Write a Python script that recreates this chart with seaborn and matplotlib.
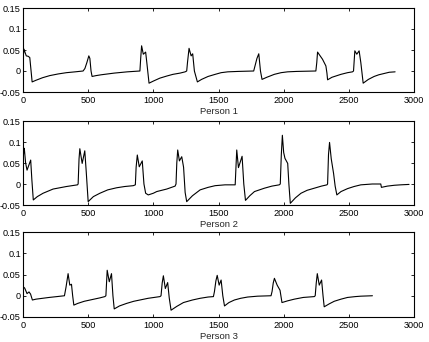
import matplotlib
matplotlib.use("Agg")
import matplotlib.pyplot as plt
import seaborn as sns
import pandas as pd

# ---- data (time index, amplitude) ----
person1 = [(0, 0.03), (8, 0.052), (15, 0.045), (25, 0.036), (40, 0.035), (52, 0.032), (62, 0.0),
           (70, -0.026), (100, -0.022), (150, -0.016), (205, -0.011), (270, -0.007), (333, -0.004),
           (400, -0.002), (461, 0.0), (475, 0.006), (490, 0.02), (505, 0.036), (513, 0.03), (522, 0.0),
           (530, -0.013), (560, -0.011), (600, -0.009), (700, -0.005), (800, -0.002), (897, 0.0),
           (903, 0.03), (910, 0.06), (923, 0.04), (941, 0.045), (950, 0.02), (967, -0.029),
           (1000, -0.024), (1050, -0.017), (1103, -0.012), (1150, -0.008), (1205, -0.005),
           (1244, -0.002), (1256, 0.0), (1262, 0.02), (1274, 0.054), (1290, 0.036), (1302, 0.041),
           (1315, 0.0), (1338, -0.026), (1370, -0.02), (1420, -0.013), (1474, -0.008), (1520, -0.004),
           (1571, -0.002), (1650, -0.001), (1770, 0.0), (1780, 0.012), (1795, 0.03), (1809, 0.041),
           (1822, 0.0), (1834, -0.02), (1870, -0.015), (1928, -0.008), (1980, -0.004), (2030, -0.002),
           (2100, -0.001), (2247, 0.0), (2254, 0.02), (2260, 0.045), (2280, 0.036), (2298, 0.028),
           (2324, 0.012), (2332, -0.005), (2337, -0.021), (2370, -0.015), (2439, -0.008),
           (2490, -0.004), (2528, -0.002), (2536, 0.0), (2546, 0.048), (2561, 0.04), (2579, 0.048),
           (2592, 0.02), (2610, -0.029), (2650, -0.02), (2694, -0.013), (2730, -0.009), (2770, -0.006),
           (2810, -0.003), (2855, -0.002)]

person2 = [(0, 0.055), (5, 0.075), (10, 0.085), (20, 0.05), (31, 0.033), (45, 0.045), (59, 0.057),
           (68, 0.01), (79, -0.038), (110, -0.03), (154, -0.022), (231, -0.012), (333, -0.006),
           (418, -0.002), (423, 0.0), (430, 0.06), (436, 0.084), (454, 0.049), (474, 0.079),
           (485, 0.03), (500, -0.042), (540, -0.03), (590, -0.022), (650, -0.014), (718, -0.009),
           (780, -0.006), (846, -0.004), (862, -0.002), (868, 0.04), (877, 0.069), (892, 0.041),
           (915, 0.055), (928, 0.0), (941, -0.022), (961, -0.026), (1000, -0.022), (1026, -0.018),
           (1103, -0.012), (1167, -0.005), (1174, 0.0), (1180, 0.05), (1187, 0.081), (1200, 0.055),
           (1218, 0.065), (1232, 0.04), (1244, -0.02), (1256, -0.042), (1300, -0.028), (1359, -0.014),
           (1420, -0.008), (1474, -0.004), (1550, -0.002), (1628, -0.002), (1634, 0.04), (1640, 0.081),
           (1653, 0.039), (1681, 0.066), (1694, 0.0), (1707, -0.039), (1740, -0.028), (1776, -0.018),
           (1852, -0.01), (1910, -0.005), (1966, -0.002), (1974, 0.0), (1982, 0.07), (1990, 0.116),
           (2000, 0.075), (2010, 0.061), (2031, 0.049), (2040, 0.0), (2051, -0.046), (2090, -0.033),
           (2133, -0.022), (2180, -0.015), (2235, -0.01), (2290, -0.005), (2332, -0.002), (2337, 0.0),
           (2344, 0.07), (2352, 0.099), (2365, 0.06), (2383, 0.025), (2395, -0.005), (2408, -0.026),
           (2440, -0.018), (2490, -0.011), (2540, -0.006), (2592, -0.002), (2680, 0.0), (2745, 0.0),
           (2750, -0.008), (2796, -0.005), (2850, -0.003), (2898, -0.002), (2962, -0.001)]

person3 = [(0, 0.012), (6, 0.02), (13, 0.018), (31, 0.005), (46, 0.009), (58, 0.004), (72, -0.01),
           (100, -0.008), (150, -0.006), (200, -0.004), (260, -0.002), (318, 0.0), (330, 0.02),
           (346, 0.052), (359, 0.025), (372, 0.027), (381, 0.0), (390, -0.022), (420, -0.018),
           (470, -0.013), (530, -0.009), (590, -0.005), (628, -0.002), (636, 0.0), (641, 0.03),
           (646, 0.06), (662, 0.033), (679, 0.052), (690, 0.0), (700, -0.031), (740, -0.024),
           (795, -0.018), (850, -0.013), (897, -0.01), (960, -0.006), (1051, -0.002), (1059, 0.0),
           (1068, 0.03), (1077, 0.047), (1092, 0.017), (1110, 0.031), (1122, -0.005), (1136, -0.034),
           (1180, -0.025), (1231, -0.016), (1300, -0.01), (1359, -0.006), (1420, -0.003),
           (1461, -0.002), (1469, 0.01), (1480, 0.035), (1490, 0.048), (1505, 0.025), (1520, 0.037),
           (1533, 0.0), (1546, -0.024), (1580, -0.016), (1622, -0.01), (1670, -0.006), (1724, -0.003),
           (1800, -0.001), (1903, 0.0), (1911, 0.01), (1920, 0.03), (1929, 0.041), (1950, 0.025),
           (1972, 0.013), (1987, -0.016), (2030, -0.012), (2082, -0.008), (2150, -0.004),
           (2235, -0.002), (2242, 0.0), (2250, 0.03), (2258, 0.052), (2273, 0.025), (2291, 0.037),
           (2302, 0.0), (2311, -0.026), (2350, -0.019), (2388, -0.013), (2440, -0.008), (2490, -0.004),
           (2550, -0.002), (2592, -0.001), (2681, 0.0)]

panel_titles = ["Person 1", "Person 2", "Person 3"]
x_ticks = [0, 500, 1000, 1500, 2000, 2500, 3000]
x_tick_labels = ["0", "500", "1000", "1500", "2000", "2500", "3000"]
y_ticks = [-0.05, 0, 0.05, 0.1, 0.15]
y_tick_labels = ["-0.05", "0", "0.05", "0.1", "0.15"]

# ---- style ----
sns.set_style("white")
plt.rcParams["font.family"] = ["Liberation Sans", "DejaVu Sans"]
plt.rcParams.update({
    "xtick.direction": "in", "ytick.direction": "in",
    "xtick.top": True, "ytick.right": True,
    "xtick.bottom": True, "ytick.left": True,
    "axes.unicode_minus": False,
})

fig = plt.figure(figsize=(4.29, 3.42), dpi=100)
W, H = 429, 342
boxes = [(23, 8, 414, 92), (23, 121, 414, 205), (23, 232, 414, 317)]

for pts, title, (l, t, r, b) in zip([person1, person2, person3], panel_titles, boxes):
    ax = fig.add_axes([l / W, 1 - b / H, (r - l) / W, (b - t) / H])
    df = pd.DataFrame(pts, columns=["t", "v"])
    sns.lineplot(data=df, x="t", y="v", ax=ax, color="black", linewidth=0.8,
                 sort=False, estimator=None)
    ax.set_xlim(0, 3000)
    ax.set_ylim(-0.05, 0.15)
    ax.set_xticks(x_ticks)
    ax.set_xticklabels(x_tick_labels)
    ax.set_yticks(y_ticks)
    ax.set_yticklabels(y_tick_labels)
    ax.tick_params(axis="both", labelsize=6.6, length=2.5, width=0.6, color="black",
                   labelcolor="black")
    ax.tick_params(axis="x", pad=3)
    ax.tick_params(axis="y", pad=1.5)
    ax.set_xlabel(title, fontsize=6.8, labelpad=1)
    ax.set_ylabel("")
    for s in ax.spines.values():
        s.set_visible(True)
        s.set_color("black")
        s.set_linewidth(0.8)

fig.savefig("out.png", dpi=100, facecolor="white")
